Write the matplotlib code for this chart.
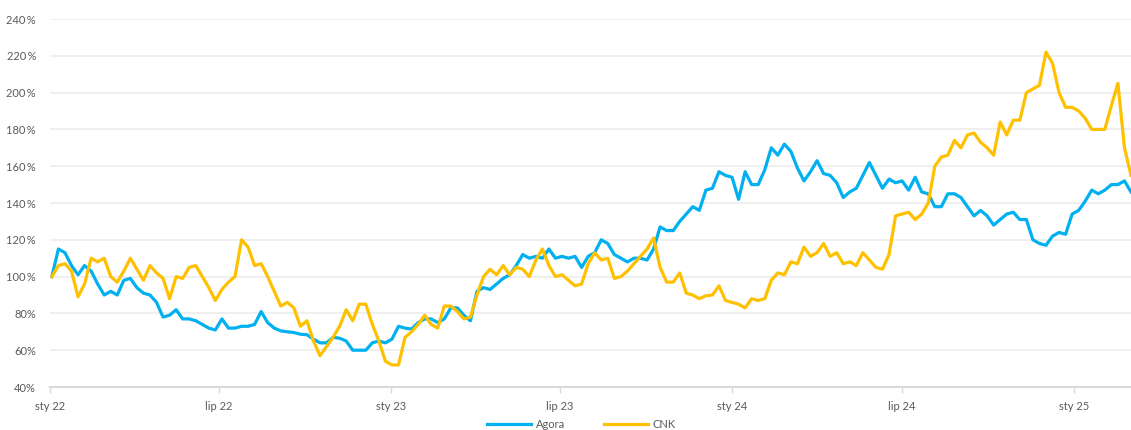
import pandas as pd
import matplotlib
matplotlib.use('Agg')
import matplotlib.pyplot as plt
import matplotlib.dates as mdates
from matplotlib.ticker import FixedLocator

plt.rcParams['font.family'] = ['Lato', 'DejaVu Sans']

# tygodniowe notowania, 100% = poczatek stycznia 2022
dates = pd.date_range('2022-01-03', periods=166, freq='7D')

agora = [100, 115, 113, 106, 101, 106, 103, 96, 90, 92,
         90, 98, 99, 94, 91, 90, 86, 78, 79, 82,
         77, 77, 76, 74, 72, 71, 77, 72, 72, 73,
         73, 74, 81, 75, 72, 70.5, 70, 69.6, 68.7, 68.4,
         66, 64, 64, 67, 66.5, 65, 60, 60, 60, 64,
         65, 64, 66, 73, 72, 71.5, 75, 77, 77, 75,
         77, 83, 83, 79, 76, 92, 94, 93, 96, 99,
         101, 106, 112, 110, 111, 110, 115, 110, 111, 110,
         111, 105, 111, 113, 120, 118, 112, 110, 108, 110,
         110, 109, 115, 127, 125, 125, 130, 134, 138, 136,
         147, 148, 157, 155, 154, 142, 157, 150, 150, 158,
         170, 166, 172, 168, 159, 152, 157, 163, 156, 155,
         151, 143, 146, 148, 155, 162, 155, 148, 153, 151,
         152, 147, 154, 146, 145, 138, 138, 145, 145, 143,
         138, 133, 136, 133, 128, 131, 134, 135, 131, 131,
         120, 118, 117, 122, 124, 123, 134, 136, 141, 147,
         145, 147, 150, 150, 152, 146]

cnk = [100, 106, 107, 103, 89, 96, 110, 108, 110, 100,
       97, 103, 110, 104, 98, 106, 102, 99, 88, 100,
       99, 105, 106, 100, 94, 87, 93, 97, 100, 120,
       116, 106, 107, 100, 92, 84, 86, 83, 73, 76,
       65, 57, 62, 67, 73, 82, 76, 85, 85, 74,
       65, 54, 52, 52, 67, 70, 74, 79, 74, 72,
       84, 84, 81, 77, 78, 90, 100, 104, 101, 106,
       101, 105, 104, 100, 109, 115, 106, 100, 101, 98,
       95, 96, 107, 113, 109, 110, 99, 100, 103, 107,
       111, 115, 121, 105, 97, 97, 102, 91, 90, 88,
       89.6, 90, 95, 87, 86, 85, 83, 88, 87, 88,
       98, 102, 101, 108, 107, 116, 111, 113, 118, 111,
       113, 107, 108, 106, 113, 109, 105, 104, 112, 133,
       134, 135, 131, 134, 140, 160, 165, 166, 174, 170,
       177, 178, 173, 170, 166, 184, 177, 185, 185, 200,
       202, 204, 222, 216, 200, 192, 192, 190, 186, 180,
       180, 180, 193, 205, 170, 155]

tick_dates = pd.to_datetime(['2022-01-01', '2022-07-01', '2023-01-01', '2023-07-01',
                             '2024-01-01', '2024-07-01', '2025-01-01'])
tick_labels = ['sty 22', 'lip 22', 'sty 23', 'lip 23', 'sty 24', 'lip 24', 'sty 25']
y_ticks = list(range(40, 241, 20))

fig = plt.figure(figsize=(11.31, 4.30), dpi=100)
ax = fig.add_axes([50 / 1131, 1 - 387 / 430, 1 - 50 / 1131, (387 - 19) / 430])

ax.plot(dates, agora, color='#00b0f0', lw=2.3, label='Agora', solid_joinstyle='round')
ax.plot(dates, cnk, color='#ffc000', lw=2.3, label='CNK', solid_joinstyle='round')

ax.set_ylim(40, 240)
ax.set_xlim(pd.Timestamp('2022-01-01'), dates[-1])
ax.yaxis.set_major_locator(FixedLocator(y_ticks))
ax.set_yticklabels([f'{v}\u2009%' if v >= 100 else f'{v}%' for v in y_ticks])
ax.set_xticks(mdates.date2num(tick_dates))
ax.set_xticklabels(tick_labels)

ax.grid(axis='y', color='#ececec', lw=1.2)
ax.set_axisbelow(True)
for s in ['top', 'right', 'left']:
    ax.spines[s].set_visible(False)
ax.spines['bottom'].set_color('#d9d9d9')
ax.spines['bottom'].set_linewidth(1.5)
ax.tick_params(axis='y', length=0, pad=10, labelsize=8, labelcolor='#595959')
ax.tick_params(axis='x', length=4, width=1, color='#d9d9d9', pad=6, labelsize=8, labelcolor='#595959')

fig.legend(loc='center', bbox_to_anchor=(0.514, 0.012), ncol=2, frameon=False,
           fontsize=8, labelcolor='#595959', handlelength=4, columnspacing=3.5, handletextpad=0.4)

fig.savefig('out.png', dpi=100)
